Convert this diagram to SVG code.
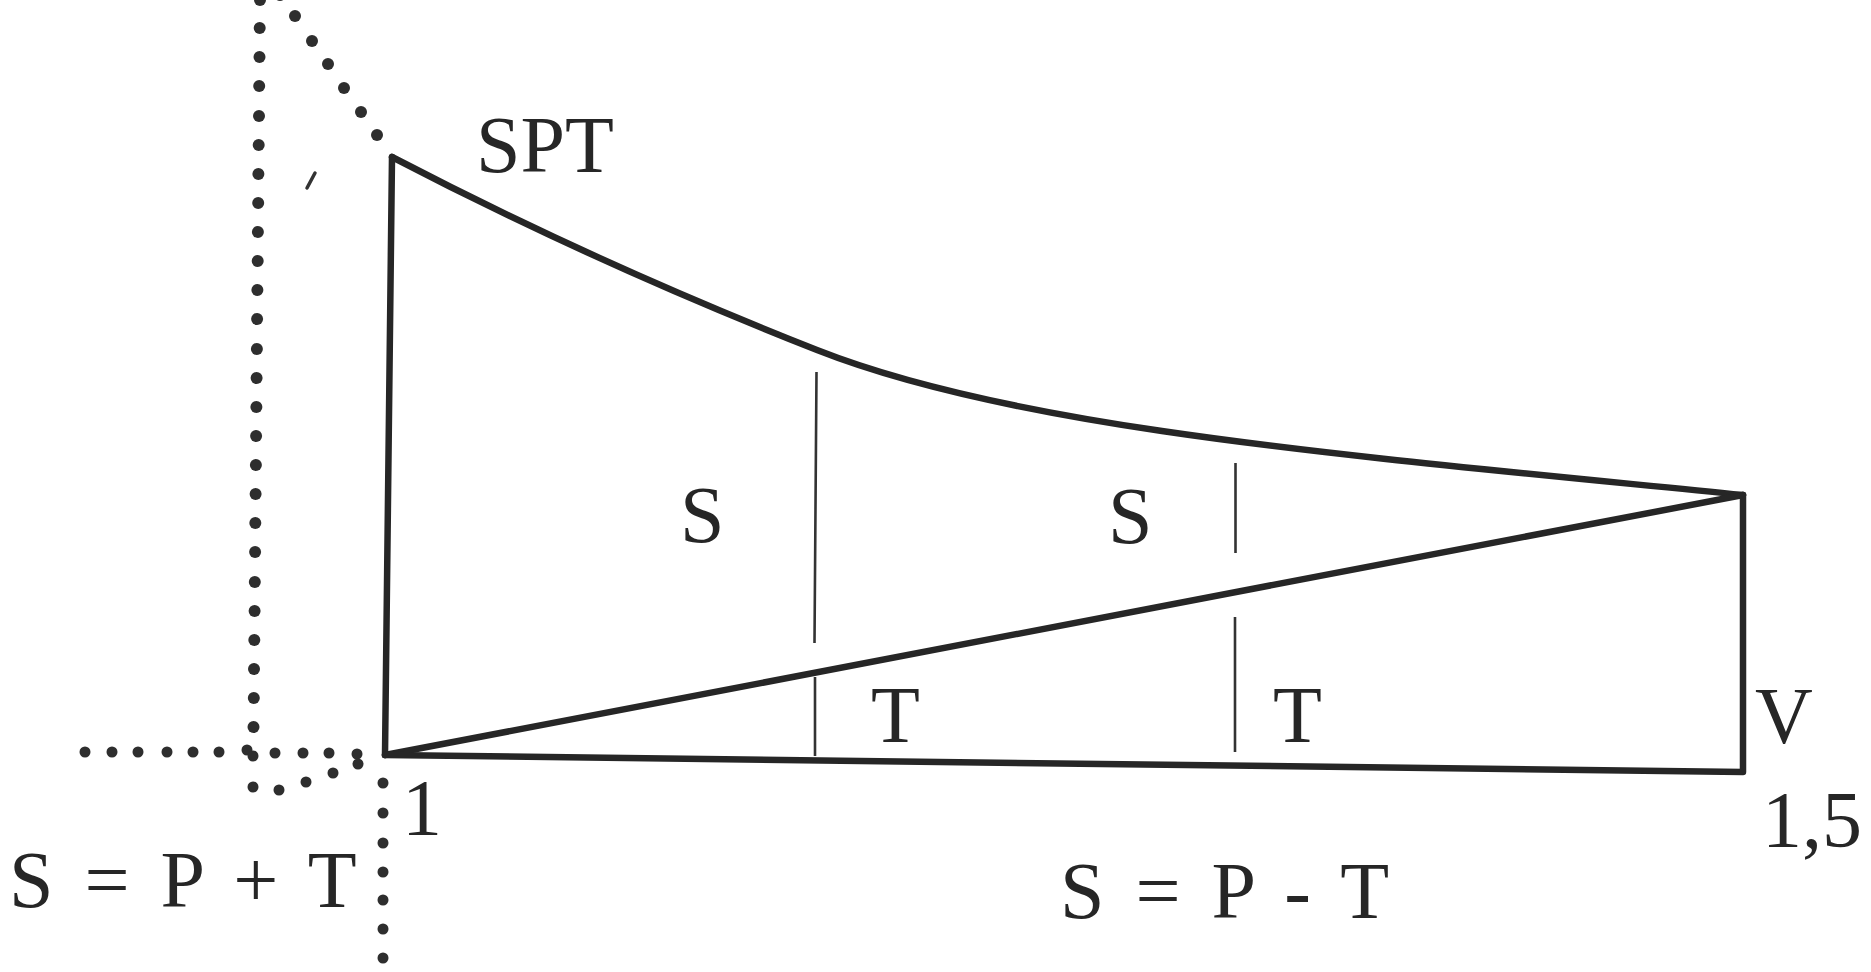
<svg xmlns="http://www.w3.org/2000/svg" width="1871" height="972" viewBox="0 0 1871 972">
<style>
.thick{fill:none;stroke:#262626;stroke-width:6.5;stroke-linejoin:round;stroke-linecap:round}
.thin{fill:none;stroke:#333;stroke-width:2.6}
.dot{fill:#2e2e2e}
.lbl{font-family:"Liberation Serif","Times New Roman",serif;font-size:80px;fill:#262626}
.eq{word-spacing:11px}
</style>
<rect width="1871" height="972" fill="#fff"/>
<g id="dotted-lines">
<circle class="dot" r="6" cx="260" cy="0"/>
<circle class="dot" r="6" cx="259.7" cy="28"/>
<circle class="dot" r="6" cx="259.5" cy="57"/>
<circle class="dot" r="6" cx="259.2" cy="86"/>
<circle class="dot" r="6" cx="259" cy="116"/>
<circle class="dot" r="6" cx="258.7" cy="145"/>
<circle class="dot" r="6" cx="258.4" cy="174"/>
<circle class="dot" r="6" cx="258.2" cy="203"/>
<circle class="dot" r="6" cx="257.9" cy="232"/>
<circle class="dot" r="6" cx="257.7" cy="261"/>
<circle class="dot" r="6" cx="257.4" cy="290"/>
<circle class="dot" r="6" cx="257.1" cy="319"/>
<circle class="dot" r="6" cx="256.9" cy="349"/>
<circle class="dot" r="6" cx="256.6" cy="378"/>
<circle class="dot" r="6" cx="256.4" cy="407"/>
<circle class="dot" r="6" cx="256.1" cy="436"/>
<circle class="dot" r="6" cx="255.9" cy="465"/>
<circle class="dot" r="6" cx="255.6" cy="494"/>
<circle class="dot" r="6" cx="255.3" cy="523"/>
<circle class="dot" r="6" cx="255.1" cy="552"/>
<circle class="dot" r="6" cx="254.8" cy="582"/>
<circle class="dot" r="6" cx="254.6" cy="611"/>
<circle class="dot" r="6" cx="254.3" cy="640"/>
<circle class="dot" r="6" cx="254" cy="669"/>
<circle class="dot" r="6" cx="253.8" cy="698"/>
<circle class="dot" r="6" cx="253.5" cy="727"/>
<circle class="dot" r="5.5" cx="247" cy="750"/>
<circle class="dot" r="5.5" cx="253" cy="756"/>
<circle class="dot" r="5.5" cx="253" cy="787"/>
<circle class="dot" r="5.5" cx="85" cy="752"/>
<circle class="dot" r="5.5" cx="112" cy="752"/>
<circle class="dot" r="5.5" cx="138" cy="752"/>
<circle class="dot" r="5.5" cx="167" cy="752"/>
<circle class="dot" r="5.5" cx="193" cy="752"/>
<circle class="dot" r="5.5" cx="219" cy="752"/>
<circle class="dot" r="5.5" cx="275" cy="753"/>
<circle class="dot" r="5.5" cx="303" cy="753"/>
<circle class="dot" r="5.5" cx="329" cy="753"/>
<circle class="dot" r="5.5" cx="357" cy="754"/>
<circle class="dot" r="5.5" cx="358" cy="764"/>
<circle class="dot" r="5.5" cx="279" cy="790"/>
<circle class="dot" r="5.5" cx="306" cy="782"/>
<circle class="dot" r="5.5" cx="333" cy="773"/>
<circle class="dot" r="6" cx="280" cy="-5"/>
<circle class="dot" r="6" cx="295" cy="16"/>
<circle class="dot" r="6" cx="312" cy="41"/>
<circle class="dot" r="6" cx="328" cy="64"/>
<circle class="dot" r="6" cx="344" cy="88"/>
<circle class="dot" r="6" cx="361" cy="112"/>
<circle class="dot" r="6" cx="377" cy="135"/>
<circle class="dot" r="5.5" cx="383" cy="783"/>
<circle class="dot" r="5.5" cx="383" cy="813"/>
<circle class="dot" r="5.5" cx="383" cy="843"/>
<circle class="dot" r="5.5" cx="383" cy="872"/>
<circle class="dot" r="5.5" cx="383" cy="900"/>
<circle class="dot" r="5.5" cx="383" cy="929"/>
<circle class="dot" r="5.5" cx="383" cy="958"/>
<path d="M307 188 L315 173" stroke="#333" stroke-width="3.5" stroke-linecap="round"/>
</g>
<g id="connectors">
<path id="spt-curve" class="thick" d="M392 157 C532 230 680 296 817 350 C1017 429 1343 455 1743 495"/>
<path id="left-edge" class="thick" d="M392 157 L385 755"/>
<path id="diagonal" class="thick" d="M385 755 L1743 495"/>
<path id="bottom-edge" class="thick" d="M385 755 L1743 772 L1743 495"/>
<path id="divider-1" class="thin" d="M816.5 372 L814.5 643 M815 677 L815 756"/>
<path id="divider-2" class="thin" d="M1235.5 463 L1235.5 553 M1235 617 L1235 752"/>
</g>
<g id="labels">
<text class="lbl" x="476" y="172">SPT</text>
<text class="lbl" x="680" y="542">S</text>
<text class="lbl" x="1108" y="543">S</text>
<text class="lbl" x="871" y="742">T</text>
<text class="lbl" x="1273" y="742">T</text>
<text class="lbl" x="1755" y="743">V</text>
<text class="lbl" x="402" y="835">1</text>
<text class="lbl" x="1762" y="847">1,5</text>
<text class="lbl eq" x="9" y="907">S = P + T</text>
<text class="lbl eq" x="1060" y="918">S = P - T</text>
</g>
</svg>
